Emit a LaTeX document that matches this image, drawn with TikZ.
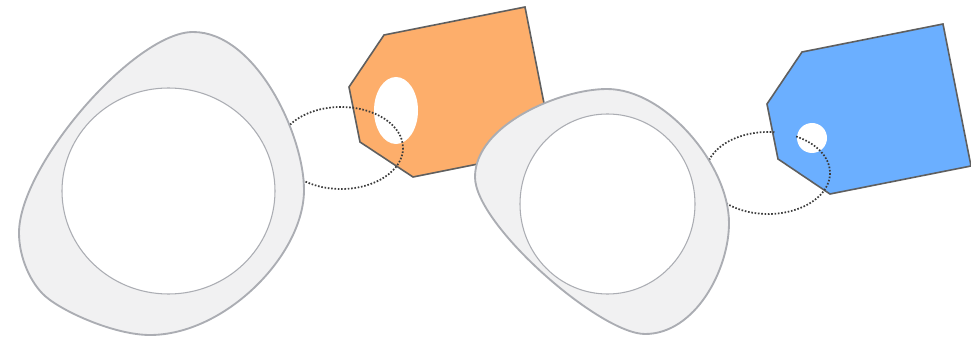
\documentclass[tikz,border=0pt]{standalone}
\usepackage{tikz}
\definecolor{tagorange}{HTML}{FDAE6B}
\definecolor{tagblue}{HTML}{6BAFFF}
\definecolor{tagline}{HTML}{5F5F5F}
\definecolor{blobfill}{HTML}{F1F1F2}
\definecolor{blobline}{HTML}{ABADB3}
\definecolor{stringcol}{HTML}{3C3C3C}

\begin{document}
\begin{tikzpicture}[
  x=0.75pt, y=-0.75pt,
  tagshape/.style={draw=tagline, line width=1.2pt, line join=miter},
  taghole/.style={fill=white},
  stringloop/.style={draw=stringcol, line width=1.3pt, dash pattern=on 1.2pt off 1.3pt},
  blob/.style={draw=blobline, line width=1.4pt, fill=blobfill},
  blobhole/.style={draw=blobline, line width=0.8pt, fill=white}
]
\useasboundingbox (0,0) rectangle (971,338);

\draw[tagshape, fill=tagorange] (384,35) -- (525,7) -- (553,149) -- (413,177) -- (360,142) -- (349,87) -- cycle;
\fill[taghole] (396,110.5) ellipse [x radius=22, y radius=33.5];
\draw[stringloop] (341,148) ellipse [x radius=62, y radius=41];

\draw[tagshape, fill=tagblue] (802,52) -- (943,24) -- (971,166) -- (830,194) -- (778,159) -- (767,104) -- cycle;
\fill[taghole] (812,138) circle [radius=15];
\draw[stringloop] plot[domain=-63:276, samples=90] ({768+62*cos(\x)},{173+41*sin(\x)});

\draw[blob] (193,32) .. controls (256,32) and (304,135) .. (304,190)
  .. controls (304,255) and (225,335) .. (150,335)
  .. controls (115,335) and (63,312) .. (45,296)
  .. controls (31,283.5) and (19,258) .. (19,233)
  .. controls (19,165) and (135,32) .. (193,32) -- cycle;
\draw[blobhole] (168.5,191) ellipse [x radius=106.5, y radius=103];

\draw[blob] (607,89) .. controls (665,89) and (729,165) .. (729,223)
  .. controls (729,270) and (695,334) .. (645,334)
  .. controls (600,334) and (475,225) .. (475,177)
  .. controls (475,125) and (560,89) .. (607,89) -- cycle;
\draw[blobhole] (607.5,204) ellipse [x radius=87.5, y radius=90];
\end{tikzpicture}
\end{document}
